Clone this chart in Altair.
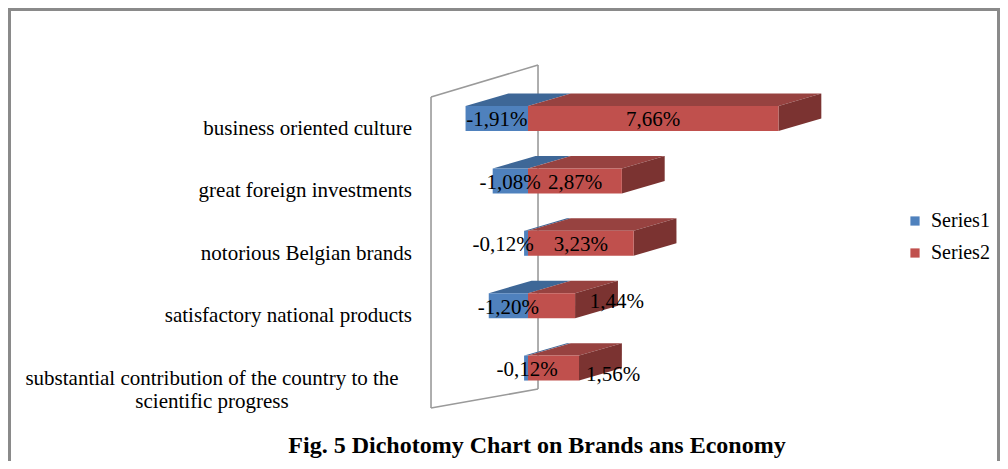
import altair as alt
import pandas as pd

# ---------------- data ----------------
categories = [
    "business oriented culture",
    "great foreign investments",
    "notorious Belgian brands",
    "satisfactory national products",
    "substantial contribution of the country to the scientific progress",
]
cat_lines = [
    ["business oriented culture"],
    ["great foreign investments"],
    ["notorious Belgian brands"],
    ["satisfactory national products"],
    ["substantial contribution of the country to the", "scientific progress"],
]
series1 = [-1.91, -1.08, -0.12, -1.20, -0.12]
series2 = [7.66, 2.87, 3.23, 1.44, 1.56]
series_names = ["Series1", "Series2"]
# where Excel put each value label (in % units along the value axis)
label1_x = [-0.95, -0.55, -0.76, -0.60, -0.03]
label2_x = [3.83, 1.44, 1.62, 2.72, 2.60]
label2_shift = [0.0, 0.0, 0.0, -0.09, 0.08]
title_text = "Fig. 5 Dichotomy Chart on Brands ans Economy"

# ---------------- styling / geometry ----------------
W, H = 992, 453
X_DOMAIN = [-15.902, 14.434]
Y_DOMAIN = [-1.771, 5.489]
HALF = 0.2      # half thickness of bar front (category units)
DX = 1.31       # 3-D depth along value axis (%)
DH = 0.2        # 3-D depth along category axis
BLUE, BLUE_TOP = "#4F81BD", "#3E6797"
RED, RED_TOP, RED_SIDE = "#C0504D", "#974240", "#7B3331"
FONT = "Liberation Serif"

xs = alt.Scale(domain=X_DOMAIN, nice=False, zero=False)
ys = alt.Scale(domain=Y_DOMAIN, nice=False, zero=False, reverse=True)


def fmt(v):
    return f"{v:.2f}".replace(".", ",") + "%"


# front faces
front_rows = []
for i, (a, b) in enumerate(zip(series1, series2)):
    front_rows.append(dict(series="Series1", x0=a, x1=0, y0=i - HALF, y1=i + HALF))
    front_rows.append(dict(series="Series2", x0=0, x1=b, y0=i - HALF, y1=i + HALF))
front = pd.DataFrame(front_rows)

# top and side faces as vertical-orient areas
face_rows = []


def top_face(fid, x0, x1, yT, col):
    pts = sorted({x0, x1, x0 + DX, x1 + DX})
    for x in pts:
        tmin = max(0.0, (x - x1) / DX)
        tmax = min(1.0, (x - x0) / DX)
        face_rows.append(dict(face=fid, x=x, y=yT - tmin * DH, y2=yT - tmax * DH, fill=col))


def side_face(fid, xe, yT, yB, col):
    face_rows.append(dict(face=fid, x=xe, y=yB, y2=yT, fill=col))
    face_rows.append(dict(face=fid, x=xe + DX, y=yB - DH, y2=yT - DH, fill=col))


for i, (a, b) in enumerate(zip(series1, series2)):
    yT, yB = i - HALF, i + HALF
    top_face(f"t1_{i}", a, 0, yT, BLUE_TOP)
    top_face(f"t2_{i}", 0, b, yT, RED_TOP)
    side_face(f"s2_{i}", b, yT, yB, RED_SIDE)
faces = pd.DataFrame(face_rows)

# back wall (value-zero plane) outline
wall = pd.DataFrame([
    dict(x=-2.966, y=-0.345, x2=-2.966, y2=4.639),
    dict(x=-2.966, y=-0.345, x2=0.306, y2=-0.857),
    dict(x=0.306, y=-0.857, x2=0.306, y2=4.335),
    dict(x=-2.966, y=4.639, x2=0.306, y2=4.335),
])

vlabels = []
for i in range(len(categories)):
    vlabels.append(dict(x=label1_x[i], y=i + 0.03, t=fmt(series1[i])))
    vlabels.append(dict(x=label2_x[i], y=i + 0.03 + label2_shift[i], t=fmt(series2[i])))
vlabels = pd.DataFrame(vlabels)

single = pd.DataFrame([dict(y=i + 0.168, t=cat_lines[i][0]) for i in range(4)])
multi = pd.DataFrame([dict(y=4 + 0.168, t=cat_lines[4])])

# ---------------- layers ----------------
wall_layer = alt.Chart(wall).mark_rule(color="#9a9a9a", strokeWidth=1.6).encode(
    x=alt.X("x:Q", scale=xs, axis=None), x2="x2:Q",
    y=alt.Y("y:Q", scale=ys, axis=None), y2="y2:Q",
)

face_layer = alt.Chart(faces).mark_area(orient="vertical").encode(
    x=alt.X("x:Q", scale=xs, axis=None),
    y=alt.Y("y:Q", scale=ys, axis=None), y2="y2:Q",
    fill=alt.Fill("fill:N", scale=None),
    detail="face:N",
)

front_layer = alt.Chart(front).mark_rect().encode(
    x=alt.X("x0:Q", scale=xs, axis=None), x2="x1:Q",
    y=alt.Y("y0:Q", scale=ys, axis=None), y2="y1:Q",
    color=alt.Color(
        "series:N",
        scale=alt.Scale(domain=series_names, range=[BLUE, RED]),
        legend=alt.Legend(
            title=None, orient="none", legendX=897, legendY=203,
            symbolType="square", symbolSize=85, symbolStrokeWidth=0,
            labelFont=FONT, labelFontSize=20, labelColor="#000",
            labelOffset=6, rowPadding=12,
        ),
    ),
)

value_text = alt.Chart(vlabels).mark_text(
    font=FONT, fontSize=21, color="#000", align="center", baseline="middle"
).encode(
    x=alt.X("x:Q", scale=xs, axis=None),
    y=alt.Y("y:Q", scale=ys, axis=None),
    text="t:N",
)

cat_text = alt.Chart(single).mark_text(
    font=FONT, fontSize=21, color="#000", align="right", baseline="middle"
).encode(
    x=alt.value(404),
    y=alt.Y("y:Q", scale=ys, axis=None),
    text="t:N",
)

cat_text2 = alt.Chart(multi).mark_text(
    font=FONT, fontSize=21, color="#000", align="center", baseline="middle", lineHeight=23
).encode(
    x=alt.value(204),
    y=alt.Y("y:Q", scale=ys, axis=None),
    text="t",
)

title_layer = alt.Chart(pd.DataFrame({"t": [title_text]})).mark_text(
    font=FONT, fontSize=24, fontWeight="bold", color="#000", align="center", baseline="middle"
).encode(x=alt.value(529), y=alt.value(438), text="t:N")

frame = alt.Chart(pd.DataFrame({"k": [0]})).mark_rule(color="#8a8a8a", strokeWidth=3)
frame_l = frame.encode(x=alt.value(1.5), y=alt.value(0), y2=alt.value(H))
frame_t = frame.encode(x=alt.value(0), x2=alt.value(W), y=alt.value(1.5))
frame_r = frame.encode(x=alt.value(W - 1.5), y=alt.value(0), y2=alt.value(H))

chart = alt.layer(
    wall_layer, face_layer, front_layer, value_text, cat_text, cat_text2,
    title_layer, frame_l, frame_t, frame_r,
).properties(
    width=W, height=H, autosize=alt.AutoSizeParams(type="none"), padding=0,
    background="white",
).configure_view(stroke=None)

chart.save("out.html", embed_options={"renderer": "svg", "actions": False})
